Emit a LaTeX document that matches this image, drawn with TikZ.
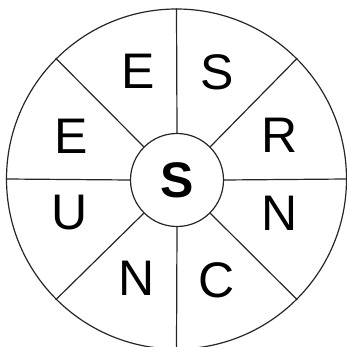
\documentclass[tikz,border=0pt]{standalone}
\usepackage{fontspec}
\setmainfont{Liberation Sans}
\newcommand{\wheelletter}[3]{%
  \node[letter] (#1) at (#2) {#3};
}
\begin{document}
\begin{tikzpicture}[x=1pt, y=1pt,
  every node/.style={inner sep=0pt},
  rim/.style={draw=black!85, line width=1.2pt},
  letter/.style={font=\fontsize{50}{50}\selectfont, text=black}]

  \useasboundingbox (-177,-167) rectangle (170,180);
  \clip (-177,-167) rectangle (170,180);

  % Wheel outline and hub
  \node[rim, circle, minimum size=340pt] (outer) at (-0.5,1) {};
  \node[rim, circle, minimum size=93pt, font=\fontsize{50}{50}\selectfont\bfseries] (hub) at (0,0) {S};

  % Spokes
  \foreach \a in {0,45,...,315}
    \draw[rim] (hub.\a) -- (outer.\a);

  % Letters round the wheel
  \wheelletter{lS}{40,108}{S}
  \wheelletter{lR}{103,45}{R}
  \wheelletter{lN}{103,-33}{N}
  \wheelletter{lC}{40,-100}{C}
  \wheelletter{lNb}{-40,-98}{N}
  \wheelletter{lU}{-107,-33}{U}
  \wheelletter{lE}{-106,44}{E}
  \wheelletter{lEt}{-39,109}{E}

\end{tikzpicture}
\end{document}
